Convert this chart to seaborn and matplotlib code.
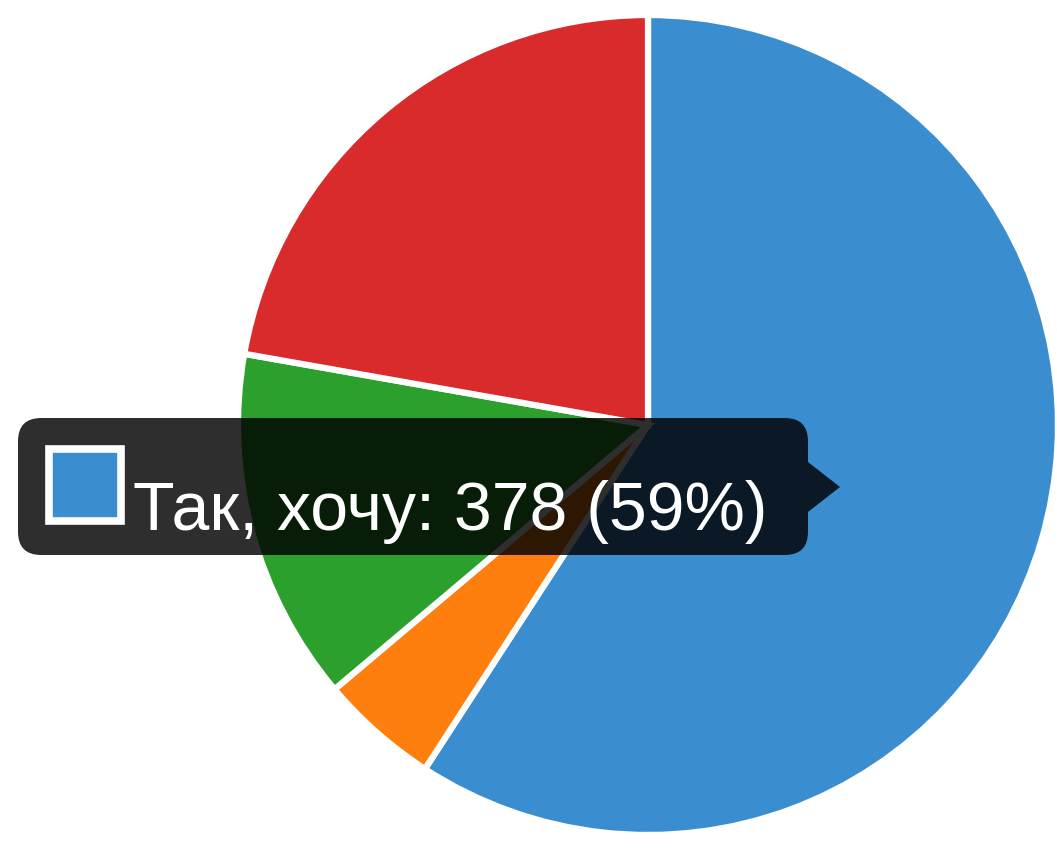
import seaborn as sns
import matplotlib.pyplot as plt
from matplotlib.patches import FancyBboxPatch, Polygon, Rectangle

# survey answers, clockwise from 12 o'clock
answers = ["Так, хочу", "Ні", "Важко відповісти", "Ні, не хочу"]
counts = [378, 30, 89, 142]
colors = ["#3a8ecf", "#ff7f0e", "#2ca02c", "#d92a2c"]

hover_idx = 0  # slice shown in the tooltip

sns.set_theme(style="white")
plt.rcParams['font.family'] = ['Liberation Sans', 'DejaVu Sans']

W, H = 1057, 856
fig = plt.figure(figsize=(W / 100, H / 100), dpi=100)
ax = fig.add_axes([0, 0, 1, 1])

ax.pie(counts, colors=sns.color_palette(colors), startangle=90, counterclock=False,
       radius=1, wedgeprops=dict(edgecolor="white", linewidth=4.5))

# pie centre at (648, 425) px, radius 410 px
cx, cy, r = 648, 425, 410
ax.set_aspect("auto")
ax.set_xlim(-cx / r, (W - cx) / r)
ax.set_ylim(-(H - cy) / r, cy / r)
ax.axis("off")


def px(x, y):
    return x / W, 1 - y / H


# tooltip
x0, y0, x1, y1 = 18, 418, 808, 555
box = FancyBboxPatch(px(x0, y1), (x1 - x0) / W, (y1 - y0) / H,
                     boxstyle="round,pad=0,rounding_size=0.022",
                     transform=fig.transFigure, facecolor="black", alpha=0.82,
                     edgecolor="none", mutation_aspect=W / H)
fig.patches.append(box)
arrow = Polygon([px(x1, 462), px(840, 487), px(x1, 512)], closed=True,
                transform=fig.transFigure, facecolor="black", alpha=0.82, edgecolor="none")
fig.patches.append(arrow)

sq = Rectangle(px(49, 521), 72 / W, 72 / H, transform=fig.transFigure,
               facecolor=colors[hover_idx], edgecolor="white", linewidth=5.5)
fig.patches.append(sq)

total = sum(counts)
pct = round(100 * counts[hover_idx] / total)
fig.text(*px(133, 530), f"{answers[hover_idx]}: {counts[hover_idx]} ({pct}%)",
         color="white", fontsize=49, fontweight="light", ha="left", va="baseline")

fig.savefig("out.png", dpi=100)
